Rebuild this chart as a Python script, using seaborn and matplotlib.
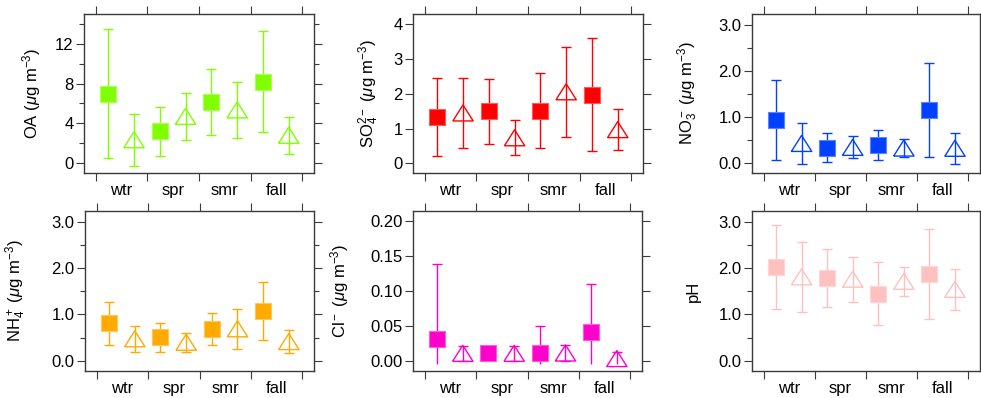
import numpy as np
import pandas as pd
import matplotlib
matplotlib.use('Agg')
import matplotlib.pyplot as plt
from matplotlib.ticker import FixedLocator, FormatStrFormatter
import seaborn as sns

# ---------------- data ----------------
seasons = ['wtr', 'spr', 'smr', 'fall']

oa_sq_mean = [7.0, 3.2, 6.15, 8.2]
oa_sq_sd = [6.45, 2.45, 3.35, 5.1]
oa_tr_mean = [2.35, 4.7, 5.35, 2.8]
oa_tr_sd = [2.6, 2.35, 2.8, 1.85]

so4_sq_mean = [1.34, 1.5, 1.52, 1.98]
so4_sq_sd = [1.12, 0.94, 1.09, 1.64]
so4_tr_mean = [1.45, 0.735, 2.06, 0.97]
so4_tr_sd = [1.01, 0.5, 1.29, 0.59]

no3_sq_mean = [0.935, 0.335, 0.395, 1.16]
no3_sq_sd = [0.865, 0.315, 0.315, 1.02]
no3_tr_mean = [0.43, 0.345, 0.33, 0.325]
no3_tr_sd = [0.44, 0.235, 0.19, 0.335]

nh4_sq_mean = [0.81, 0.51, 0.69, 1.08]
nh4_sq_sd = [0.46, 0.31, 0.35, 0.625]
nh4_tr_mean = [0.475, 0.40, 0.69, 0.415]
nh4_tr_sd = [0.285, 0.20, 0.43, 0.255]

cl_sq_mean = [0.031, 0.0105, 0.0105, 0.0406]
cl_sq_sd = [0.108, 0.008, 0.039, 0.0694]
cl_tr_mean = [0.0105, 0.0105, 0.011, 0.003]
cl_tr_sd = [0.0105, 0.0105, 0.011, 0.010]

ph_sq_mean = [2.015, 1.785, 1.45, 1.875]
ph_sq_sd = [0.905, 0.615, 0.67, 0.975]
ph_tr_mean = [1.81, 1.76, 1.715, 1.54]
ph_tr_sd = [0.75, 0.485, 0.315, 0.45]

ylabels = [
    r'OA ($\mathit{\mu}$g m$^{-3}$)',
    r'SO$_4^{2-}$ ($\mathit{\mu}$g m$^{-3}$)',
    r'NO$_3^-$ ($\mathit{\mu}$g m$^{-3}$)',
    r'NH$_4^+$ ($\mathit{\mu}$g m$^{-3}$)',
    r'Cl$^-$ ($\mathit{\mu}$g m$^{-3}$)',
    'pH',
]
colors = ['#80FF00', '#FF0000', '#0040FF', '#FFAA00', '#FF00CC', '#FFC0C0']

# ---------------- style ----------------
sns.set_theme(style='white')
plt.rcParams['font.family'] = ['Liberation Sans', 'DejaVu Sans']
plt.rcParams['mathtext.fontset'] = 'custom'
plt.rcParams['mathtext.rm'] = 'Liberation Sans'
plt.rcParams['mathtext.it'] = 'Liberation Sans:italic'
plt.rcParams['mathtext.default'] = 'regular'

panels = [
    dict(sq=(oa_sq_mean, oa_sq_sd), tr=(oa_tr_mean, oa_tr_sd), ylim=(-1, 15),
         major=[0, 4, 8, 12], minor=[2, 6, 10, 14], fmt='%d', floor=None,
         rect=(84, 14, 314, 173), labx=-0.178),
    dict(sq=(so4_sq_mean, so4_sq_sd), tr=(so4_tr_mean, so4_tr_sd), ylim=(-0.28, 4.3),
         major=[0, 1, 2, 3, 4], minor=[], fmt='%d', floor=None,
         rect=(413, 14, 643, 173), labx=-0.139),
    dict(sq=(no3_sq_mean, no3_sq_sd), tr=(no3_tr_mean, no3_tr_sd), ylim=(-0.21, 3.23),
         major=[0, 1, 2, 3], minor=[0.5, 1.5, 2.5], fmt='%.1f', floor=None,
         rect=(752, 14, 980, 173), labx=-0.228),
    dict(sq=(nh4_sq_mean, nh4_sq_sd), tr=(nh4_tr_mean, nh4_tr_sd), ylim=(-0.22, 3.23),
         major=[0, 1, 2, 3], minor=[0.5, 1.5, 2.5], fmt='%.1f', floor=None,
         rect=(85, 211, 314, 371), labx=-0.249),
    dict(sq=(cl_sq_mean, cl_sq_sd), tr=(cl_tr_mean, cl_tr_sd), ylim=(-0.0148, 0.2143),
         major=[0, 0.05, 0.10, 0.15, 0.20], minor=[], fmt='%.2f', floor=-0.005,
         rect=(413, 211, 642, 371), labx=-0.27),
    dict(sq=(ph_sq_mean, ph_sq_sd), tr=(ph_tr_mean, ph_tr_sd), ylim=(-0.22, 3.23),
         major=[0, 1, 2, 3], minor=[0.5, 1.5, 2.5], fmt='%.1f', floor=None,
         rect=(752, 211, 980, 371), labx=-0.224),
]

W, H = 981, 398
fig = plt.figure(figsize=(W / 100, H / 100), dpi=100)

tri_marker = [(-1.27, -1.0), (1.27, -1.0), (0.0, 1.0), (-1.27, -1.0)]
x = np.arange(len(seasons))
offsets = {'sq': -0.26, 'tr': 0.24}
capsize = 3.4
frame_col = '#3a3a3a'
FS = 12


def lighten(c, f):
    r, g, b = matplotlib.colors.to_rgb(c)
    return (r + (1 - r) * f, g + (1 - g) * f, b + (1 - b) * f)


for p, col, lab in zip(panels, colors, ylabels):
    l, t, r, b = p['rect']
    ax = fig.add_axes([l / W, 1 - b / H, (r - l) / W, (b - t) / H])
    for kind in ('sq', 'tr'):
        mean = np.array(p[kind][0], dtype=float)
        sd = np.array(p[kind][1], dtype=float)
        xp = x + offsets[kind]
        hi = mean + sd
        lo = mean - sd
        capmask = np.ones(len(lo), bool)
        if p['floor'] is not None:
            capmask = lo >= p['floor']
            lo = np.maximum(lo, p['floor'])
        ax.vlines(xp, lo, hi, color=col, lw=1.0, zorder=2)
        ax.plot(xp, hi, ls='none', marker='_', ms=2 * capsize, mew=1.0, color=col, zorder=2)
        ax.plot(xp[capmask], lo[capmask], ls='none', marker='_', ms=2 * capsize,
                mew=1.0, color=col, zorder=2)
        df = pd.DataFrame({'x': xp, 'y': mean})
        if kind == 'sq':
            sns.scatterplot(data=df, x='x', y='y', ax=ax, marker='s', s=120,
                            color=col, edgecolor=lighten(col, 0.35), linewidth=0.8,
                            zorder=3, legend=False)
        else:
            sns.scatterplot(data=df, x='x', y='y', ax=ax, marker=tri_marker, s=215,
                            facecolor='none', edgecolor=col, linewidth=1.0,
                            zorder=3, legend=False)

    ax.set_xlim(-0.73, 3.73)
    ax.set_ylim(*p['ylim'])
    ax.xaxis.set_major_locator(FixedLocator(x))
    ax.set_xticklabels(seasons)
    ax.xaxis.set_minor_locator(FixedLocator(np.arange(-0.5, 4.0, 1.0)))
    ax.yaxis.set_major_locator(FixedLocator(p['major']))
    ax.yaxis.set_major_formatter(FormatStrFormatter(p['fmt']))
    ax.yaxis.set_minor_locator(FixedLocator(p['minor']))
    ax.set_xlabel('')
    ax.set_ylabel(lab, fontsize=FS, color='black')
    ax.yaxis.set_label_coords(p['labx'], 0.5)

    for s in ax.spines.values():
        s.set_visible(True)
        s.set_color(frame_col)
        s.set_linewidth(1.0)
    ax.tick_params(axis='y', which='major', left=True, right=True, direction='out',
                   length=5.5, width=0.8, color=frame_col, pad=2, labelsize=FS,
                   labelcolor='black')
    ax.tick_params(axis='y', which='minor', left=True, right=True, direction='out',
                   length=3.5, width=0.8, color=frame_col)
    ax.tick_params(axis='x', which='major', bottom=True, top=False, length=0, pad=7,
                   labelsize=FS, labelcolor='black')
    ax.tick_params(axis='x', which='minor', bottom=True, top=True, direction='out',
                   length=5.5, width=0.8, color=frame_col)
    ax.grid(False)

fig.savefig('out.png', dpi=100)
